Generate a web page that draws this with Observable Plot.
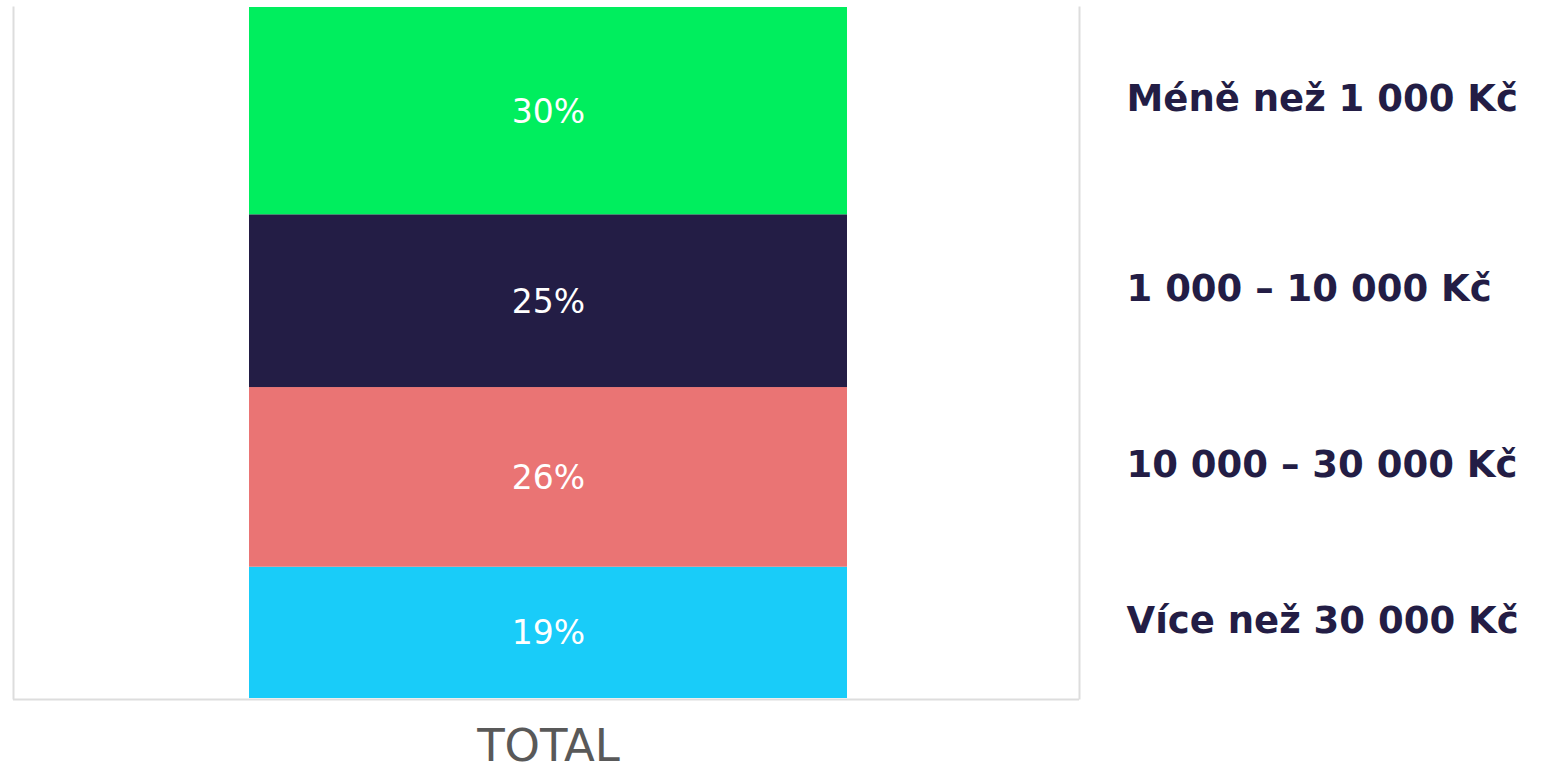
<!DOCTYPE html>
<html>
<head>
<meta charset="utf-8">
<script src="https://cdn.jsdelivr.net/npm/d3@7"></script>
<script src="https://cdn.jsdelivr.net/npm/@observablehq/plot@0.6"></script>
<style>
  html, body { margin: 0; padding: 0; background: #fff; }
  #chart svg { display: block; }
</style>
</head>
<body>
<div id="chart"></div>
<script>
const groups = ["TOTAL"];
const categories = ["Více než 30 000 Kč", "10 000 – 30 000 Kč", "1 000 – 10 000 Kč", "Méně než 1 000 Kč"];
const values = [19, 26, 25, 30];
const colors = ["#19CCF9", "#EA7474", "#231D45", "#00EE5E"];

const data = categories.map((c, i) => ({group: groups[0], category: c, value: values[i]}));

const chart = Plot.plot({
  width: 1552,
  height: 774,
  marginLeft: 13,
  marginRight: 473,
  marginTop: 7,
  marginBottom: 76,
  style: {fontFamily: "'DejaVu Sans', Verdana, sans-serif", background: "#fff"},
  x: {domain: groups, padding: 0.281, label: null},
  y: {domain: [0, 100], axis: null},
  color: {domain: categories, range: colors},
  marks: [
    Plot.barY(data, {x: "group", y: "value", fill: "category", dx: 2}),
    Plot.frame({anchor: "left", stroke: "#dddddd", strokeWidth: 2}),
    Plot.frame({anchor: "right", stroke: "#dddddd", strokeWidth: 2}),
    Plot.ruleY([0], {stroke: "#dddddd", strokeWidth: 2, dy: 1}),
    Plot.text(data, Plot.stackY({x: "group", y: "value", text: d => d.value + "%", fill: "white", fontSize: 33, dx: 2, dy: 1})),
    Plot.text(data, Plot.stackY({y: "value", text: "category", frameAnchor: "right", textAnchor: "start", dx: 47, dy: -12, fill: "#231D45", fontSize: 37, fontWeight: "bold"})),
    Plot.axisX({tickSize: 0, tickPadding: 31, fontSize: 45, fill: "#595959", label: null, dx: 2})
  ]
});
document.getElementById("chart").appendChild(chart);
</script>
</body>
</html>
